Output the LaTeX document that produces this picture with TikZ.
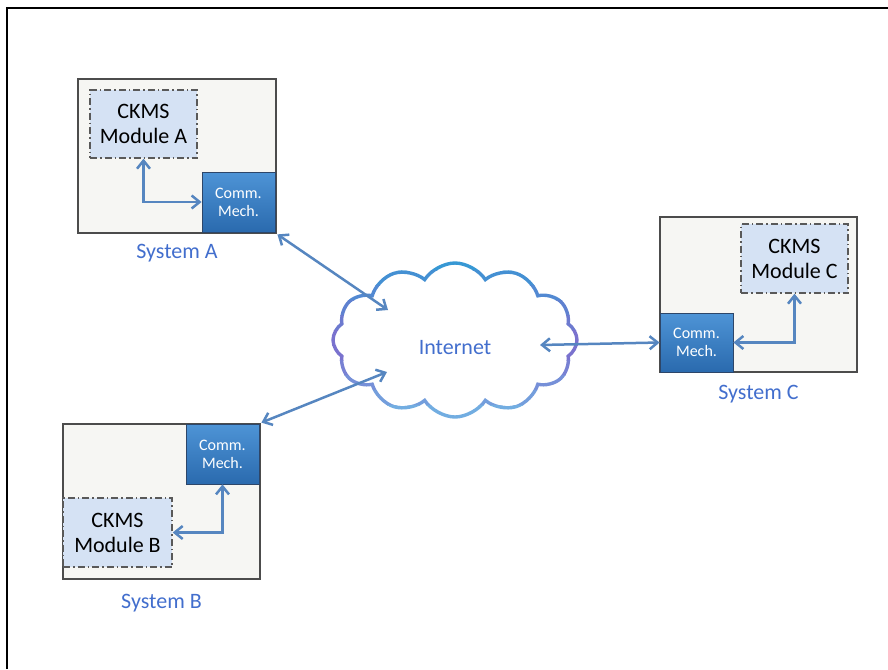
\documentclass[tikz,border=0pt]{standalone}
\usepackage{fontspec}
\setmainfont{Carlito}
\usetikzlibrary{shapes.symbols,arrows.meta,calc}

\definecolor{sysgray}{RGB}{246,246,243}
\definecolor{modblue}{RGB}{213,226,244}
\definecolor{commtop}{RGB}{78,148,214}
\definecolor{commbot}{RGB}{42,106,174}
\definecolor{commedge}{RGB}{45,70,105}
\definecolor{linkblue}{RGB}{86,134,192}
\definecolor{textblue}{RGB}{66,110,205}
\definecolor{cloudtop}{RGB}{55,152,212}
\definecolor{cloudmid}{RGB}{122,114,206}
\definecolor{cloudbot}{RGB}{112,188,230}

\begin{document}
\begin{tikzpicture}
  [
    x=1pt, y=-1pt,
    system/.style =
      {draw=black!70, fill=sysgray, line width=1.4pt, inner sep=0pt},
    module/.style =
      {draw=black!65, fill=modblue, line width=1.4pt,
       dash pattern=on 7pt off 3pt on 1.5pt off 3pt,
       align=center, font=\fontsize{22}{25}\selectfont},
    comm/.style =
      {draw=commedge, top color=commtop, bottom color=commbot, line width=0.8pt,
       align=center, text=white, font=\fontsize{16}{18}\selectfont},
    slabel/.style =
      {text=textblue, font=\fontsize{22}{25}\selectfont},
    sarrow/.style =
      {<->, >={Straight Barb[length=8pt,width=13pt]}, draw=linkblue, line width=2.5pt},
    net/.style =
      {cloud, cloud puffs=12, cloud puff arc=115, cloud ignores aspect,
       minimum width=244pt, minimum height=154pt, inner sep=0pt, line width=3.4pt}
  ]

\useasboundingbox (0,0) rectangle (888,669);

% page frame
\draw[line width=2.5pt] (7,669) -- (7,8) -- (888,8);

% system A
\node[system, minimum width=198pt, minimum height=154pt,
      label={[slabel, label distance=7pt]below:System A}] (sysA) at (177,156) {};
\node[module, minimum width=107pt, minimum height=68pt] (modA) at (143.5,124) {CKMS\\Module A};
\node[comm, minimum width=73pt, minimum height=60pt] (commA) at (238.5,202) {Comm.\\Mech.};

% system B
\node[system, minimum width=197pt, minimum height=155pt,
      label={[slabel, label distance=11pt]below:System B}] (sysB) at (161.5,501.5) {};
\node[comm, minimum width=73pt, minimum height=60pt] (commB) at (222.5,454) {Comm.\\Mech.};
\node[module, minimum width=109pt, minimum height=69pt] (modB) at (117.5,532.5) {CKMS\\Module B};

% system C
\node[system, minimum width=197pt, minimum height=155pt,
      label={[slabel, label distance=9pt]below:System C}] (sysC) at (758.5,294.5) {};
\node[module, minimum width=107pt, minimum height=69pt] (modC) at (794.5,258.5) {CKMS\\Module C};
\node[comm, minimum width=73pt, minimum height=59pt] (commC) at (696.5,342.5) {Comm.\\Mech.};

% internet
\node[net, draw=none, label={[slabel, yshift=-8pt]center:Internet}] (net) at (455,340) {};
\foreach \i in {0,...,11}
{
  \ifnum\i<6
    \pgfmathtruncatemacro\m{100-\i*20}
    \colorlet{band}{cloudtop!\m!cloudmid}
  \else
    \pgfmathtruncatemacro\m{100-(\i-6)*20}
    \colorlet{band}{cloudmid!\m!cloudbot}
  \fi
  \begin{scope}
    \clip (300,255+\i*15) rectangle (620,270+\i*15);
    \node[net, draw=band] at (net.center) {};
  \end{scope}
}

\coordinate (inA) at (388,310);
\coordinate (inB) at (387,372);
\coordinate (inC) at (540,345);

% links
\draw[sarrow] (modA.south) |- (commA.west);
\draw[sarrow] (commB.south) |- (modB.east);
\draw[sarrow] (modC.south) |- (commC.east);

\draw[sarrow] ($(commA.south east)+(2,2)$) -- (inA);
\draw[sarrow] ($(commB.north east)+(2,-1)$) -- (inB);
\draw[sarrow] (commC.west) -- (inC);

\end{tikzpicture}
\end{document}
